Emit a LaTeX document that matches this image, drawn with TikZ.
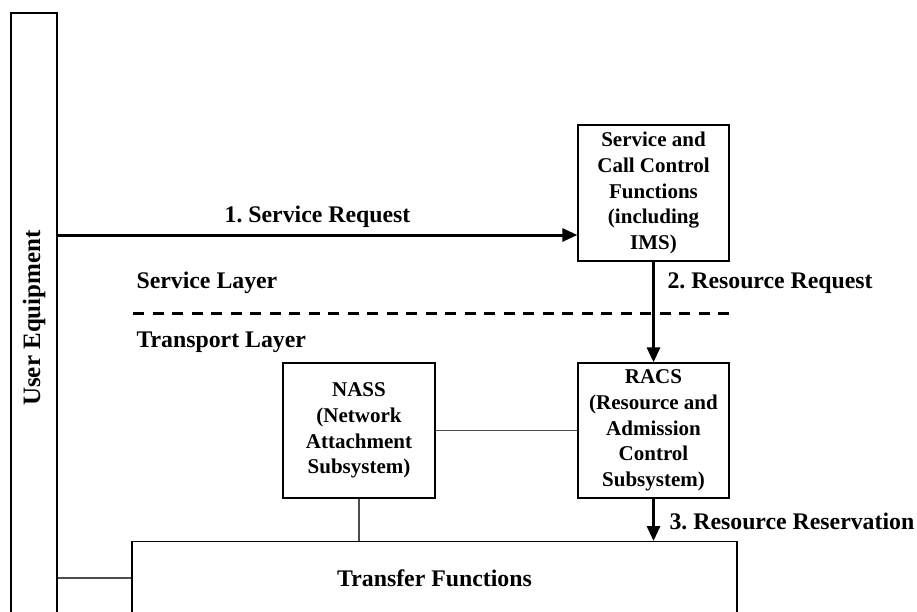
\documentclass[tikz,border=0pt]{standalone}
\usepackage{fontspec}
\setmainfont{Liberation Serif}
\usetikzlibrary{arrows.meta}

\tikzset{
    box/.style = {draw , line width = 1.3pt , align = center , inner sep = 0pt},
    small/.style = {font = \fontsize{21}{25.7}\selectfont\bfseries},
    flow/.style = {line width = 3pt , -{Triangle[length = 15pt , width = 13pt]}},
    link/.style = {line width = 1.2pt , black!70}
}

\begin{document}
\frenchspacing
\begin{tikzpicture}[x = 1pt , y = -1pt , font = \fontsize{23.8}{25.8}\selectfont\bfseries]
    \useasboundingbox (0,0) rectangle (917,612);
    \clip (0,0) rectangle (917,612);
    % Κουτια
    \node[box , minimum width = 46pt , minimum height = 610pt , font = \fontsize{25}{27}\selectfont\bfseries] (ue) at (34,318) {\rotatebox{90}{User Equipment}};
    \node[box , small , minimum width = 151pt , minimum height = 136pt] (scf) at (653.5,193) {Service and\\Call Control\\Functions\\(including\\IMS)};
    \node[box , small , minimum width = 151pt , minimum height = 135pt] (racs) at (653.5,430.5) {RACS\\(Resource and\\Admission\\Control\\Subsystem)};
    \node[box , small , minimum width = 152pt , minimum height = 135pt] (nass) at (359,430.5) {NASS\\(Network\\Attachment\\Subsystem)};
    \node[box , minimum width = 605pt , minimum height = 74pt , anchor = north] (tf) at (434.5,541) {Transfer Functions};
    % Βελη
    \coordinate (req) at ([yshift = -42pt]scf.west);
    \draw[flow] (ue.east |- req) -- (req) node[midway , above = 3pt]{1. Service Request};
    \draw[flow] (scf.south) -- (racs.north);
    \draw[flow] (racs.south) -- (racs.south |- tf.north);
    \node[anchor = west] (rreq) at (664,283) {2. Resource Request};
    \node[anchor = west] (rres) at (666,521) {3. Resource Reservation};
    % Στρωματα
    \draw[line width = 3pt , dash pattern = on 11pt off 8.5pt] (133,313) -- (732,313);
    \node[anchor = west] (sl) at (133,283) {Service Layer};
    \node[anchor = west] (tl) at (133,342) {Transport Layer};
    % Συνδεσεις
    \draw[link] (nass.east) -- (racs.west);
    \draw[link] (nass.south) -- (nass.south |- tf.north);
    \draw[link] (tf.west |- 0,578) -- (ue.east |- 0,578);
\end{tikzpicture}
\end{document}
